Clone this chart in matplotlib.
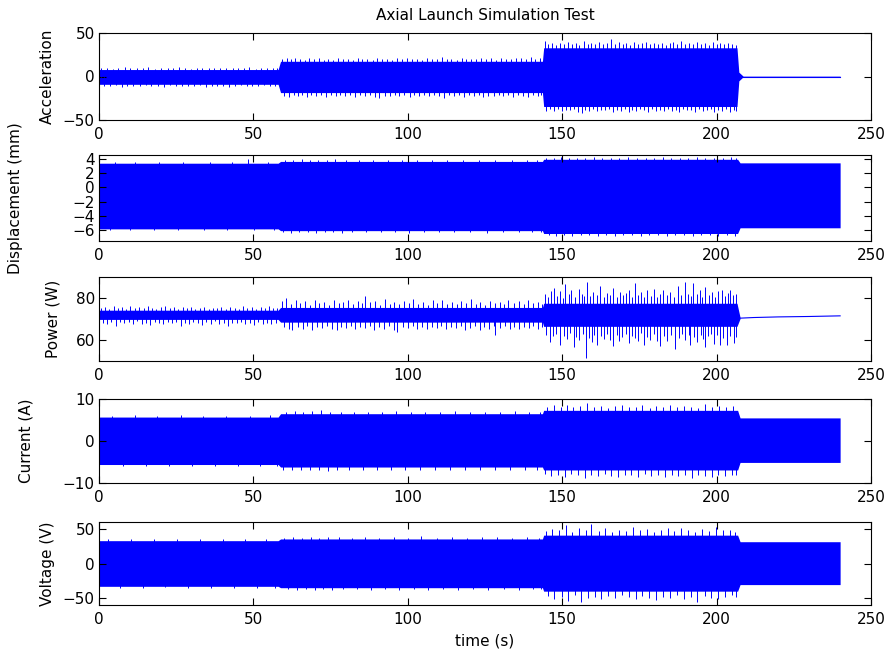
import matplotlib
matplotlib.use('Agg')
import matplotlib.pyplot as plt

plt.rcParams['font.family'] = ['DejaVu Sans']
plt.rcParams['font.size'] = 11

BLUE = '#0000ff'

# ---------------- acceleration ----------------
accel_t = [0, 58, 58.8, 143.6, 144.0, 206.6, 207.2, 208.6, 240]
accel_hi = [8, 8, 17.5, 17.5, 33, 33, 5, 0.4, 0.4]
accel_lo = [-9, -9, -18.5, -18.5, -34.5, -34.5, -5, -0.4, -0.4]
accel_up_t = [0.8, 2.6, 4.5, 6.3, 8.4, 10.1, 12.2, 14.3, 16.0, 18.1,
              20.0, 22.2, 24.1, 25.9, 27.8, 29.9, 31.7, 33.5, 35.6, 37.4,
              39.3, 41.2, 43.3, 45.0, 46.9, 48.6, 50.7, 52.5, 54.3, 56.2,
              57.6, 59.4, 60.8, 62.3, 63.4, 65.1, 66.7, 68.0, 69.6, 71.2,
              72.9, 74.3, 75.8, 77.4, 79.0, 80.5, 82.2, 83.8, 85.3, 86.9,
              88.6, 90.1, 91.7, 93.4, 95.0, 96.5, 98.1, 99.8, 101.4, 102.9,
              104.6, 106.2, 107.7, 109.3, 111.0, 112.6, 114.1, 115.8, 117.4, 119.0,
              120.5, 122.2, 123.8, 125.3, 126.9, 128.6, 130.2, 131.7, 133.4, 135.0,
              136.5, 138.2, 139.8, 141.3, 142.9, 144.3, 145.5, 146.8, 148.0, 149.3,
              150.6, 151.8, 153.1, 154.4, 155.6, 156.9, 158.2, 159.4, 160.7, 162.0,
              163.2, 164.5, 165.8, 167.0, 168.3, 169.6, 170.8, 172.1, 173.4, 174.6,
              175.9, 177.2, 178.4, 179.7, 181.0, 182.2, 183.5, 184.8, 186.0, 187.3,
              188.6, 189.8, 191.1, 192.4, 193.6, 194.9, 196.2, 197.4, 198.7, 200.0,
              201.2, 202.5, 203.8, 205.0, 206.2]
accel_up_v = [9.3, 10.1, 9.0, 9.8, 11.0, 9.3, 9.9, 9.5, 10.4, 9.1,
              9.7, 10.2, 9.2, 10.6, 9.5, 9.1, 9.9, 10.3, 9.2, 9.8,
              9.2, 10.2, 9.4, 10.0, 9.3, 10.5, 9.1, 9.8, 10.3, 9.4,
              9.7, 20.5, 21.5, 19.6, 21.0, 20.2, 19.3, 20.8, 19.8, 21.2,
              19.5, 20.4, 19.2, 20.9, 19.7, 20.3, 19.4, 21.0, 19.9, 20.6,
              19.3, 21.6, 19.8, 20.3, 19.5, 20.8, 19.6, 21.2, 19.9, 20.5,
              19.4, 20.9, 19.7, 20.4, 22.0, 19.8, 20.6, 19.5, 21.1, 19.9,
              20.3, 19.6, 21.3, 20.0, 20.7, 19.5, 21.0, 20.2, 19.7, 20.9,
              21.4, 20.0, 22.3, 20.4, 21.0, 40.5, 37.5, 39.0, 36.5, 38.2,
              36.8, 39.5, 37.2, 38.6, 36.4, 41.2, 37.6, 38.9, 36.9, 39.8,
              37.3, 38.1, 43.0, 37.8, 40.2, 37.0, 38.7, 36.6, 39.3, 37.4,
              38.0, 39.6, 36.8, 38.4, 37.1, 39.0, 36.7, 38.5, 39.4, 37.2,
              41.0, 37.6, 38.3, 36.9, 39.2, 37.5, 38.0, 36.6, 39.8, 37.3,
              38.6, 36.8, 38.1, 37.0, 36.5]
accel_dn_t = [1.7, 3.5, 5.4, 7.3, 9.2, 11.1, 13.2, 15.1, 17.0, 19.0,
              21.1, 23.0, 25.0, 26.8, 28.8, 30.8, 32.6, 34.5, 36.5, 38.3,
              40.2, 42.2, 44.1, 46.0, 47.8, 49.7, 51.6, 53.4, 55.3, 57.0,
              59.9, 61.5, 63.0, 64.4, 65.9, 67.4, 68.8, 70.4, 72.0, 73.6,
              75.1, 76.6, 78.2, 79.8, 81.3, 83.0, 84.5, 86.1, 87.7, 89.3,
              90.8, 92.5, 94.2, 95.7, 97.3, 98.9, 100.6, 102.1, 103.7, 105.4,
              106.9, 108.5, 110.1, 111.8, 113.3, 114.9, 116.6, 118.2, 119.7, 121.4,
              123.0, 124.5, 126.1, 127.8, 129.4, 130.9, 132.6, 134.2, 135.7, 137.3,
              139.0, 140.5, 142.2, 143.2, 144.9, 146.1, 147.4, 148.7, 149.9, 151.2,
              152.5, 153.7, 155.0, 156.3, 157.5, 158.8, 160.1, 161.3, 162.6, 163.9,
              165.1, 166.4, 167.7, 168.9, 170.2, 171.5, 172.7, 174.0, 175.3, 176.5,
              177.8, 179.1, 180.3, 181.6, 182.9, 184.1, 185.4, 186.7, 187.9, 189.2,
              190.5, 191.7, 193.0, 194.3, 195.5, 196.8, 198.1, 199.3, 200.6, 201.9,
              203.1, 204.4, 205.6, 206.4]
accel_dn_v = [-10.4, -11.2, -10.1, -11.6, -10.6, -10.9, -11.4, -10.3, -11.0, -10.7,
              -11.8, -10.2, -11.1, -10.5, -11.3, -10.8, -10.3, -11.5, -10.6, -11.0,
              -10.4, -11.7, -10.8, -10.3, -11.2, -10.6, -11.4, -10.2, -11.0, -10.7,
              -22.0, -23.2, -21.0, -22.6, -21.4, -23.4, -21.8, -22.2, -20.8, -23.0,
              -21.6, -22.4, -21.1, -22.8, -21.5, -23.6, -21.2, -22.5, -21.7, -23.1,
              -25.0, -21.9, -22.3, -21.0, -22.7, -21.4, -23.3, -21.8, -22.1, -20.9,
              -22.9, -21.5, -22.6, -25.0, -21.3, -22.4, -21.8, -23.0, -21.2, -22.5,
              -21.6, -23.2, -21.9, -22.2, -21.1, -22.8, -21.7, -23.4, -21.3, -22.6,
              -23.8, -21.5, -22.4, -21.8, -40.0, -37.8, -39.2, -37.2, -39.8, -38.0,
              -38.9, -37.0, -40.6, -41.8, -38.4, -39.6, -37.4, -40.2, -38.1, -39.0,
              -37.6, -40.8, -38.3, -39.4, -37.3, -41.0, -38.6, -39.1, -37.5, -38.2,
              -40.4, -37.9, -39.3, -38.0, -40.0, -37.2, -39.5, -38.4, -41.2, -37.7,
              -39.0, -38.2, -40.3, -37.6, -39.7, -38.1, -37.4, -40.5, -38.8, -39.2,
              -37.1, -41.0, -38.5, -39.4]
accel_tail_t = [208.6, 240]
accel_tail_v = [0, 0]

# ---------------- displacement ----------------
disp_t = [0, 58, 58.8, 143.6, 144.0, 206.8, 207.6, 240]
disp_hi = [3.4, 3.4, 3.65, 3.65, 3.95, 3.95, 3.45, 3.45]
disp_lo = [-5.8, -5.8, -6.05, -6.05, -6.45, -6.45, -5.65, -5.65]
disp_up_t = [5.2, 11.8, 19.5, 27.3, 36.1, 43.0, 48.4, 54.7,
             60.2, 62.9, 65.7, 68.4, 71.0, 73.8, 76.5, 79.9, 84.2, 88.7, 93.5, 98.0,
             103.1, 107.8, 112.6, 117.9, 123.0, 128.4, 133.7, 138.5, 142.0,
             144.8, 147.3, 149.6, 152.2, 154.9, 157.5, 160.2, 163.0, 165.7, 168.4,
             171.3, 174.1, 177.0, 179.8, 182.5, 185.3, 188.1, 190.9, 193.6, 196.4,
             199.2, 202.0, 204.7, 206.3]
disp_up_v = [3.55, 3.5, 3.6, 3.5, 3.55, 3.5, 3.95, 3.6,
             3.9, 3.85, 3.95, 3.8, 3.9, 3.85, 3.95, 3.8, 3.85, 3.8, 3.85, 3.8,
             3.9, 3.8, 3.85, 3.8, 3.85, 3.8, 3.85, 3.8, 3.9,
             4.15, 4.1, 4.2, 4.1, 4.15, 4.1, 4.2, 4.1, 4.15, 4.1,
             4.2, 4.1, 4.15, 4.1, 4.2, 4.1, 4.15, 4.1, 4.2, 4.1,
             4.15, 4.1, 4.2, 4.1]
disp_dn_t = [3.5, 10.2, 17.8, 25.6, 33.9, 41.5, 50.3, 56.8,
             59.6, 62.2, 64.9, 67.6, 70.3, 73.1, 75.8, 78.6, 82.0, 86.5, 91.2, 95.8,
             100.4, 105.3, 110.1, 115.0, 120.2, 125.5, 130.8, 135.9, 140.3, 143.1,
             145.6, 148.0, 150.7, 153.3, 156.0, 158.8, 161.5, 164.3, 167.0, 169.8,
             172.6, 175.4, 178.2, 181.0, 183.8, 186.6, 189.4, 192.2, 195.0, 197.8,
             200.6, 203.3, 205.8]
disp_dn_v = [-5.95, -6.0, -5.95, -5.9, -6.0, -5.95, -5.9, -6.0,
             -6.3, -6.35, -6.25, -6.3, -6.35, -6.25, -6.3, -6.4, -6.25, -6.3, -6.25, -6.3,
             -6.35, -6.25, -6.3, -6.25, -6.3, -6.35, -6.25, -6.3, -6.25, -6.3,
             -6.7, -6.75, -6.65, -6.8, -6.7, -6.65, -6.75, -6.7, -6.8, -6.65,
             -6.7, -6.75, -6.65, -6.7, -6.8, -6.7, -6.65, -6.75, -6.7, -6.65,
             -6.8, -6.7, -6.75]

# ---------------- power ----------------
power_t = [0, 58, 58.8, 143.6, 144.0, 206.6, 207.6]
power_hi = [74.2, 74.2, 75.5, 75.5, 77.5, 77.5, 70.8]
power_lo = [69.8, 69.8, 68.5, 68.5, 66.5, 66.5, 70.2]
power_tail_t = [207.6, 212, 220, 230, 240]
power_tail_v = [70.4, 70.7, 71.0, 71.2, 71.5]
power_up_t = [0.6, 1.9, 3.3, 4.8, 6.0, 7.5, 8.9, 10.2, 11.7, 13.0,
              14.5, 15.8, 17.3, 18.6, 20.1, 21.4, 22.9, 24.2, 25.7, 27.1,
              28.4, 29.9, 31.2, 32.7, 34.0, 35.5, 36.8, 38.3, 39.6, 41.1,
              42.4, 43.9, 45.2, 46.7, 48.0, 49.5, 50.8, 52.3, 53.6, 55.1,
              56.4, 57.8, 59.3, 60.6, 62.1, 63.7, 65.2, 66.8, 68.3, 69.8,
              71.4, 72.9, 74.5, 76.0, 77.6, 79.1, 80.7, 82.2, 83.8, 85.3,
              86.2, 87.9, 89.4, 91.0, 92.5, 94.1, 95.6, 97.2, 98.7, 100.3,
              101.8, 103.4, 104.9, 106.5, 108.0, 109.6, 111.1, 112.7, 114.2, 115.8,
              117.3, 118.9, 120.4, 122.0, 123.5, 125.1, 126.6, 128.2, 129.7, 131.3,
              132.6, 134.4, 135.9, 137.5, 139.0, 140.6, 142.1, 143.3, 144.4, 145.5,
              146.5, 147.2, 148.3, 149.3, 150.2, 151.0, 152.1, 153.0, 154.1, 155.3,
              156.4, 157.2, 158.0, 159.1, 160.0, 161.2, 162.3, 163.4, 164.5, 165.6,
              166.6, 167.7, 168.8, 169.7, 170.8, 171.5, 172.6, 173.6, 174.7, 175.5,
              176.5, 177.4, 178.6, 179.7, 180.8, 181.7, 182.8, 183.9, 185.0, 186.1,
              187.5, 188.6, 189.8, 190.9, 191.8, 192.5, 193.6, 194.5, 195.4, 196.3,
              197.4, 198.5, 199.6, 200.6, 201.7, 202.7, 203.6, 204.4, 205.3, 206.2]
power_up_v = [75.2, 75.8, 74.8, 76.0, 75.1, 75.6, 74.9, 76.2, 75.3, 75.7,
              75.0, 76.1, 75.4, 74.8, 75.9, 76.3, 75.2, 75.6, 74.9, 75.5,
              75.0, 75.8, 74.7, 75.3, 75.9, 74.8, 75.4, 75.1, 75.7, 74.9,
              75.6, 75.2, 74.8, 76.0, 75.3, 75.5, 74.9, 75.8, 75.1, 76.2,
              75.4, 75.0, 78.5, 80.0, 77.2, 79.0, 77.8, 78.6, 76.9, 79.0,
              77.5, 78.2, 76.8, 78.9, 77.4, 78.0, 79.2, 77.1, 78.4, 77.6,
              81.0, 77.9, 78.7, 76.9, 79.3, 77.3, 78.1, 77.0, 78.8, 77.5,
              79.5, 77.2, 78.3, 76.8, 78.9, 77.6, 79.1, 77.3, 78.2, 77.0,
              78.6, 77.4, 79.4, 77.1, 78.0, 76.9, 78.7, 77.5, 78.3, 77.2,
              79.0, 77.8, 78.5, 77.0, 78.9, 77.6, 78.1, 77.3, 82.0, 80.5,
              83.5, 84.8, 81.0, 83.2, 80.2, 86.9, 81.8, 84.0, 80.6, 84.5,
              82.0, 81.0, 87.5, 80.8, 83.0, 81.5, 85.6, 80.4, 82.5, 81.2,
              84.8, 80.6, 83.0, 81.4, 82.2, 84.0, 80.5, 87.3, 81.6, 82.8,
              80.3, 83.7, 81.0, 84.2, 80.7, 82.0, 84.0, 81.2, 83.0, 80.6,
              85.5, 81.5, 87.8, 82.0, 80.9, 87.2, 81.8, 84.0, 80.5, 85.0,
              81.3, 82.8, 80.6, 83.5, 83.7, 81.0, 82.5, 84.0, 81.2, 82.0]
power_dn_t = [1.2, 2.6, 4.0, 5.4, 6.8, 8.2, 9.6, 11.0, 12.4, 13.8,
              15.2, 16.6, 18.0, 19.4, 20.8, 22.2, 23.6, 25.0, 26.4, 27.8,
              29.2, 30.6, 32.0, 33.4, 34.8, 36.2, 37.6, 39.0, 40.4, 41.8,
              43.2, 44.6, 46.0, 47.4, 48.8, 50.2, 51.6, 53.0, 54.4, 55.8,
              57.2,
              60.0, 61.4, 62.5, 64.4, 66.0, 67.5, 69.1, 70.6, 72.2, 73.7,
              75.3, 77.0, 78.4, 79.9, 81.5, 83.0, 84.6, 86.1, 87.7, 89.2,
              90.8, 92.3, 93.9, 95.4, 96.5, 98.5, 100.0, 101.6, 103.1, 104.7,
              106.2, 107.8, 109.3, 110.9, 112.4, 114.0, 115.5, 117.1, 118.6, 120.2,
              121.7, 123.3, 124.8, 126.4, 127.9, 128.3, 129.9, 131.4, 133.0, 134.5,
              136.1, 137.6, 139.2, 140.7, 142.3, 143.4,
              144.9, 146.1, 147.0, 148.0, 149.4, 150.5, 151.5, 152.6, 153.7, 154.6,
              155.5, 156.6, 157.7, 158.6, 159.5, 160.4, 161.3, 162.6, 163.5, 164.6,
              165.6, 166.6, 167.6, 168.5, 169.5, 170.5, 171.5, 172.5, 173.5, 174.4,
              175.4, 176.4, 177.5, 178.5, 179.6, 180.6, 181.8, 182.9, 184.0, 185.2,
              186.6, 187.7, 188.8, 189.9, 191.0, 191.5, 192.6, 193.7, 194.8, 195.5,
              196.3, 197.3, 198.3, 199.0, 200.1, 201.0, 202.0, 203.3, 204.3, 205.5,
              206.3]
power_dn_v = [68.2, 67.6, 68.8, 66.8, 68.4, 67.9, 68.6, 67.4, 68.9, 67.7,
              68.3, 67.2, 68.7, 68.0, 67.5, 68.5, 67.9, 68.8, 66.9, 68.2,
              67.6, 68.6, 68.0, 67.3, 68.4, 67.8, 68.9, 67.5, 68.1, 66.6,
              68.3, 67.9, 68.7, 67.4, 68.2, 67.0, 68.5, 67.7, 68.3, 67.6,
              68.0,
              66.0, 65.2, 64.8, 66.4, 65.3, 66.8, 65.0, 66.2, 65.6, 66.9,
              65.1, 64.6, 66.3, 65.5, 66.7, 65.2, 66.0, 65.8, 66.6, 64.9,
              66.1, 65.4, 66.5, 65.0, 64.0, 66.2, 65.6, 66.8, 65.3, 66.0,
              65.1, 66.4, 65.7, 66.9, 65.2, 66.1, 65.5, 66.6, 65.0, 65.9,
              66.7, 64.8, 66.2, 65.4, 66.5, 62.4, 65.6, 66.8, 65.1, 66.0,
              65.3, 66.4, 65.8, 66.9, 65.2, 66.0,
              62.5, 59.2, 61.8, 63.0, 57.6, 62.0, 60.3, 63.2, 56.8, 61.5,
              60.0, 62.8, 51.2, 61.0, 59.0, 62.5, 57.6, 61.8, 60.5, 63.0,
              59.8, 57.0, 62.2, 59.5, 61.4, 63.0, 58.5, 62.0, 61.0, 59.6,
              63.2, 57.6, 61.5, 60.0, 62.7, 59.4, 57.0, 61.8, 59.5, 62.5,
              55.5, 61.0, 63.0, 60.0, 62.2, 57.6, 61.4, 59.0, 62.6, 60.5,
              56.5, 61.8, 63.0, 58.0, 62.4, 57.6, 61.0, 57.4, 62.0, 58.5,
              61.5]

# ---------------- current ----------------
curr_t = [0, 58, 58.8, 143.6, 144.0, 206.8, 207.6, 240]
curr_hi = [5.7, 5.7, 6.5, 6.5, 7.3, 7.3, 5.5, 5.5]
curr_lo = [-5.6, -5.6, -6.2, -6.2, -6.9, -6.9, -5.1, -5.1]
curr_up_t = [4.1, 11.6, 18.9, 26.4, 33.7, 41.2, 48.8, 55.3,
             60.5, 63.4, 66.2, 69.1, 72.0, 74.8, 78.3, 82.5, 87.1, 91.6, 96.2, 100.9,
             105.7, 110.4, 115.2, 120.1, 124.9, 129.8, 134.6, 139.3, 142.8,
             145.0, 147.2, 149.5, 151.4, 153.6, 155.9, 158.0, 160.3, 162.5, 164.8,
             167.0, 169.3, 171.5, 173.8, 176.0, 178.3, 180.5, 182.8, 185.0, 187.3,
             189.5, 191.8, 194.0, 196.3, 198.5, 200.8, 203.0, 205.3]
curr_up_v = [6.0, 6.1, 5.95, 6.1, 6.0, 6.05, 5.95, 6.1,
             7.0, 7.2, 6.9, 7.1, 7.3, 6.9, 7.0, 6.85, 7.0, 6.9, 7.05, 6.85,
             7.0, 6.9, 7.1, 6.85, 7.0, 6.9, 7.05, 6.9, 7.0,
             8.0, 8.5, 8.2, 8.6, 8.0, 8.3, 9.0, 8.1, 8.4, 7.9,
             8.3, 8.6, 8.0, 8.2, 8.5, 7.9, 8.3, 8.1, 8.6, 8.0,
             8.4, 8.2, 7.9, 8.7, 8.1, 8.4, 8.0, 8.3]
curr_dn_t = [7.8, 15.2, 22.7, 30.1, 37.5, 45.0, 52.1, 57.5,
             59.7, 62.6, 65.4, 68.3, 71.1, 74.0, 77.2, 81.0, 85.4, 89.9, 94.5, 99.2,
             104.0, 108.8, 113.6, 118.5, 123.3, 128.2, 133.0, 137.8, 141.9,
             144.3, 146.4, 148.6, 150.8, 152.9, 155.1, 157.3, 159.4, 161.6, 163.8,
             165.9, 168.1, 170.3, 172.4, 174.6, 176.8, 178.9, 181.1, 183.3, 185.4,
             187.6, 189.8, 191.9, 194.1, 196.3, 198.4, 200.6, 202.8, 204.9, 206.4]
curr_dn_v = [-5.9, -6.0, -5.85, -5.95, -6.0, -5.9, -5.95, -5.85,
             -6.9, -7.0, -6.8, -6.95, -6.85, -7.05, -6.9, -6.8, -6.95, -6.85, -7.0, -6.9,
             -6.8, -6.95, -6.9, -7.0, -6.85, -6.9, -7.0, -6.85, -6.95,
             -7.8, -8.3, -8.0, -8.6, -7.9, -8.2, -8.8, -8.0, -8.4, -7.9,
             -8.3, -8.5, -8.0, -8.2, -8.6, -7.9, -8.3, -8.1, -8.5, -8.0,
             -8.4, -8.2, -8.7, -8.0, -8.3, -8.6, -8.1, -8.4, -8.0, -8.2]

# ---------------- voltage ----------------
volt_t = [0, 58, 58.8, 143.6, 144.0, 206.8, 207.6, 240]
volt_hi = [33, 33, 35.5, 35.5, 41, 41, 31.5, 31.5]
volt_lo = [-33, -33, -35, -35, -40, -40, -30.5, -30.5]
volt_up_t = [3.0, 10.4, 17.7, 25.1, 32.6, 40.0, 47.4, 54.2,
             59.9, 62.8, 65.6, 68.5, 71.4, 74.2, 77.7, 81.8, 86.3, 90.8, 95.4, 100.0,
             104.2, 109.6, 114.4, 119.3, 124.1, 129.0, 133.8, 138.6, 142.4,
             144.6, 146.7, 149.0, 151.1, 153.2, 155.4, 157.6, 159.3, 161.8, 164.0,
             166.2, 168.5, 170.7, 172.9, 175.2, 177.4, 179.6, 181.9, 184.1, 186.3,
             188.6, 190.8, 193.0, 195.3, 197.5, 199.7, 202.0, 204.2, 206.1]
volt_up_v = [35.0, 35.5, 34.8, 35.3, 35.0, 35.6, 34.9, 35.2,
             37.5, 38.0, 37.2, 37.8, 37.0, 37.6, 38.2, 37.3, 37.7, 37.1, 37.9, 37.4,
             39.5, 37.2, 37.8, 37.3, 37.6, 37.9, 37.2, 37.7, 37.4,
             47, 50, 48, 55, 46, 52, 49, 57, 47, 51,
             46, 49, 47, 53, 48, 50, 46, 49, 51, 47,
             52, 48, 46, 50, 47, 53, 49, 48, 46]
volt_dn_t = [6.7, 14.1, 21.5, 28.9, 36.3, 43.7, 51.1, 57.0,
             61.2, 64.0, 66.9, 69.8, 72.7, 75.5, 79.0, 83.5, 88.0, 92.6, 97.2, 101.9,
             106.6, 111.4, 116.3, 121.2, 126.1, 131.0, 135.9, 140.7, 143.2,
             145.4, 147.5, 149.8, 151.9, 154.0, 156.2, 158.4, 160.6, 162.7, 164.9,
             167.1, 169.3, 171.6, 173.8, 176.0, 178.2, 180.5, 182.7, 184.9, 187.1,
             189.4, 191.6, 193.8, 196.1, 198.3, 200.5, 202.8, 205.0, 206.4]
volt_dn_v = [-34.8, -35.4, -34.6, -35.2, -35.8, -34.9, -35.3, -34.7,
             -37.5, -38.2, -37.0, -37.7, -37.3, -38.0, -37.4, -36.9, -37.6, -37.2, -37.9, -37.3,
             -38.3, -37.1, -37.7, -37.4, -37.8, -37.2, -37.6, -37.0, -37.5,
             -47, -52, -49, -54, -46, -56, -50, -48, -52, -47,
             -50, -46, -49, -51, -47, -50, -53, -48, -50, -46,
             -52, -49, -55, -47, -50, -52, -48, -46, -49]


def draw_signal(ax, t, hi, lo, up_t, up_v, dn_t, dn_v, mid):
    # dense oscillation drawn as its envelope plus the individual peaks
    ax.fill_between(t, lo, hi, color=BLUE, linewidth=0)
    ax.vlines(up_t, mid, up_v, color=BLUE, linewidth=0.7)
    ax.vlines(dn_t, dn_v, mid, color=BLUE, linewidth=0.7)


fig = plt.figure(figsize=(8.86, 6.55), dpi=100)

W, H = 886.0, 655.0
left = 99 / W
width = 772 / W
boxes = [(33, 120), (155, 241), (277, 361), (399, 483), (522, 605)]
axes = []
for top, bot in boxes:
    ax = fig.add_axes([left, 1 - bot / H, width, (bot - top) / H])
    axes.append(ax)

ax1, ax2, ax3, ax4, ax5 = axes

draw_signal(ax1, accel_t, accel_hi, accel_lo, accel_up_t, accel_up_v, accel_dn_t, accel_dn_v, 0)
ax1.plot(accel_tail_t, accel_tail_v, color=BLUE, linewidth=0.8)
ax1.set_ylim(-50, 50)
ax1.set_yticks([-50, 0, 50])
ax1.set_ylabel('Acceleration')
ax1.set_title('Axial Launch Simulation Test', fontsize=11, pad=9)

draw_signal(ax2, disp_t, disp_hi, disp_lo, disp_up_t, disp_up_v, disp_dn_t, disp_dn_v, -1)
ax2.set_ylim(-7.5, 4.55)
ax2.set_yticks([-6, -4, -2, 0, 2, 4])
ax2.set_ylabel('Displacement (mm)')

draw_signal(ax3, power_t, power_hi, power_lo, power_up_t, power_up_v, power_dn_t, power_dn_v, 72)
ax3.plot(power_tail_t, power_tail_v, color=BLUE, linewidth=0.8)
ax3.set_ylim(50, 90)
ax3.set_yticks([60, 80])
ax3.set_ylabel('Power (W)')

draw_signal(ax4, curr_t, curr_hi, curr_lo, curr_up_t, curr_up_v, curr_dn_t, curr_dn_v, 0)
ax4.set_ylim(-10, 10)
ax4.set_yticks([-10, 0, 10])
ax4.set_ylabel('Current (A)')

draw_signal(ax5, volt_t, volt_hi, volt_lo, volt_up_t, volt_up_v, volt_dn_t, volt_dn_v, 0)
ax5.set_ylim(-60, 60)
ax5.set_yticks([-50, 0, 50])
ax5.set_ylabel('Voltage (V)')
ax5.set_xlabel('time (s)', labelpad=5)

# right edge of each y label, in axes fraction
label_x = [-0.057, -0.098, -0.0505, -0.085, -0.057]
for ax, lx in zip(axes, label_x):
    ax.set_xlim(0, 250)
    ax.set_xticks([0, 50, 100, 150, 200, 250])
    ax.tick_params(direction='in', top=True, right=True, length=5, width=0.8)
    ax.tick_params(axis='x', pad=5)
    ax.tick_params(axis='y', pad=3)
    ax.yaxis.set_label_coords(lx, 0.5)
    for s in ax.spines.values():
        s.set_linewidth(0.8)

fig.savefig('out.png', dpi=100)
